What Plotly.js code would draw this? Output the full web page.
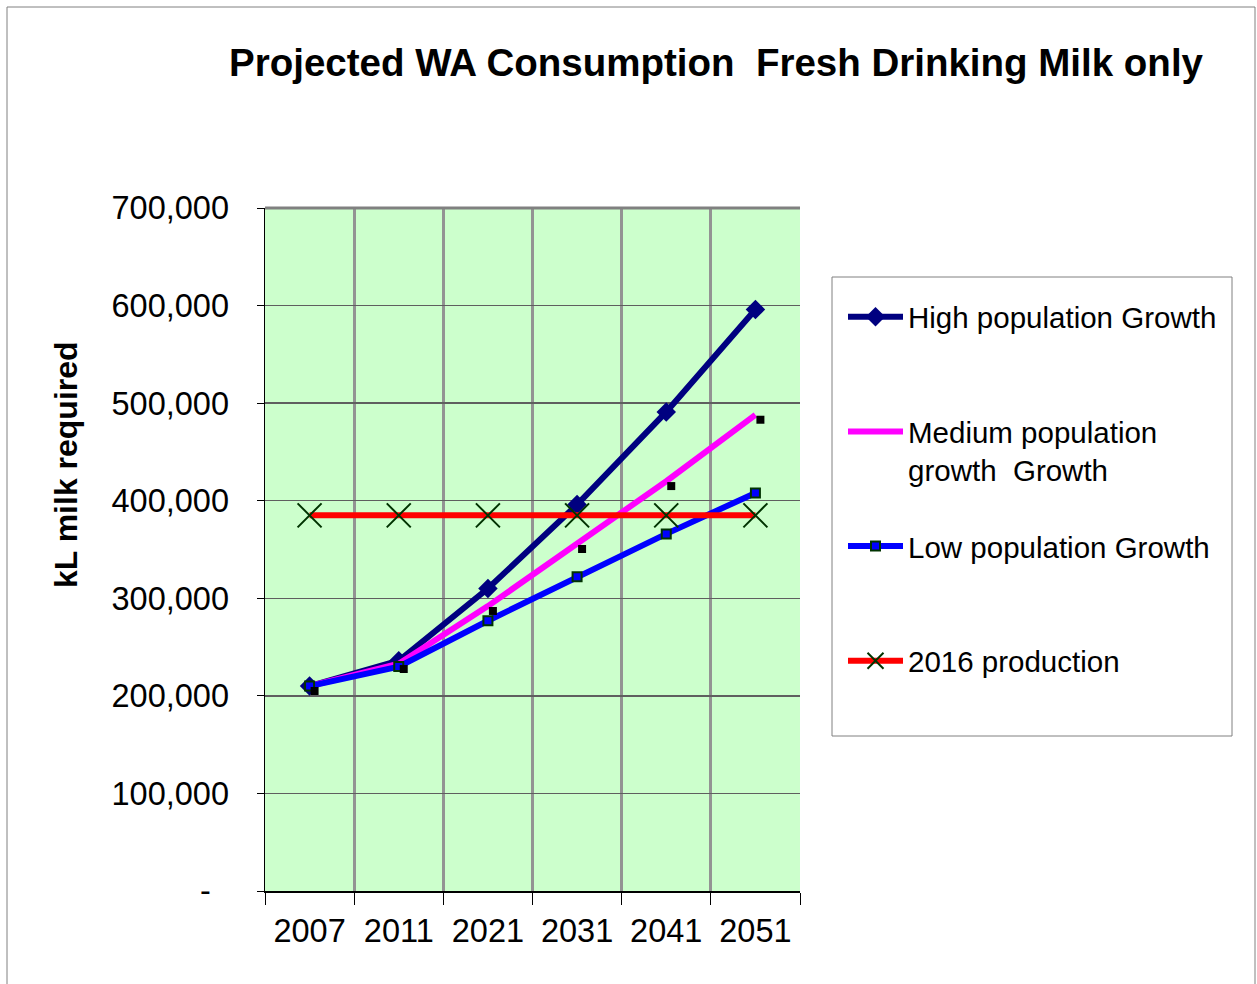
<!DOCTYPE html>
<html>
<head>
<meta charset="utf-8">
<script src="https://cdn.plot.ly/plotly-3.0.1.min.js"></script>
<style>
  html, body { margin: 0; padding: 0; background: #ffffff; }
  #chart { width: 1257px; height: 984px; }
</style>
</head>
<body>
<div id="chart"></div>
<script>
// Projection years (category axis)
const years = ['2007', '2011', '2021', '2031', '2041', '2051'];

// kL of fresh drinking milk required, by population growth scenario
const highGrowth   = [210000, 236000, 310000, 396000, 491000, 596000];
const mediumGrowth = [210000, 233000, 292000, 356000, 420000, 488000];
const mediumPoints = [205000, 227500, 287000, 350500, 415000, 483000];
const lowGrowth    = [210000, 230000, 277000, 322000, 366000, 408000];

// 2016 production level, flat across all years
const production2016 = [385000, 385000, 385000, 385000, 385000, 385000];

// Value axis ticks (accounting style, zero shown as a dash)
const yTickVals = [0, 100000, 200000, 300000, 400000, 500000, 600000, 700000];
const yTickText = ['-\u00a0\u00a0', '100,000', '200,000', '300,000', '400,000', '500,000', '600,000', '700,000'];

const FONT = 'Liberation Sans, Arial, sans-serif';

// plot area in pixels
const W = 1257, H = 984;
const L = 265, R = 457, T = 208, B = 93;
const PW = W - L - R, PH = H - T - B;
const px = v => (v - L) / PW;          // pixel x -> paper x
const py = v => (H - B - v) / PH;      // pixel y -> paper y

const traces = [
  {
    name: 'High population Growth<br>\u00a0',
    x: years, y: highGrowth,
    mode: 'lines+markers',
    line: { color: '#000080', width: 6 },
    marker: { symbol: 'diamond', size: 15, color: '#000080' },
    legendgroup: 'high'
  },
  {
    name: 'Medium population<br>growth\u00a0 Growth',
    x: years, y: mediumGrowth,
    mode: 'lines',
    line: { color: '#FF00FF', width: 6 },
    legendgroup: 'medium'
  },
  {
    name: 'medium points',
    x: years, y: mediumPoints,
    xaxis: 'x2',
    mode: 'markers',
    marker: { symbol: 'square', size: 8, color: '#000000' },
    showlegend: false,
    hoverinfo: 'skip'
  },
  {
    name: 'Low population Growth<br>\u00a0',
    x: years, y: lowGrowth,
    mode: 'lines+markers',
    line: { color: '#0000FF', width: 6 },
    marker: { symbol: 'square', size: 9, color: '#0000FF', line: { color: '#003300', width: 2 } },
    legendgroup: 'low'
  },
  {
    name: '2016 production<br>\u00a0',
    x: years, y: production2016,
    mode: 'lines+markers',
    line: { color: '#FF0000', width: 6 },
    marker: { symbol: 'x-thin-open', size: 24, color: '#003300', line: { color: '#003300', width: 2 } },
    legendgroup: 'prod'
  }
];

const layout = {
  width: W, height: H,
  margin: { l: L, r: R, t: T, b: B, pad: 0 },
  paper_bgcolor: '#ffffff',
  plot_bgcolor: 'rgba(0,0,0,0)',
  font: { family: FONT, color: '#000000' },
  title: {
    text: 'Projected WA Consumption\u00a0 Fresh Drinking Milk only',
    font: { family: FONT, size: 38.5, weight: 'bold', color: '#000000' },
    xref: 'container', yref: 'container',
    x: 716 / W, xanchor: 'center',
    y: 1 - 63 / H, yanchor: 'middle'
  },
  xaxis: {
    type: 'category',
    categoryorder: 'array', categoryarray: years,
    range: [-0.5, 5.5],
    tickson: 'boundaries',
    showgrid: true, gridcolor: '#939393', gridwidth: 3,
    showline: true, linecolor: '#000000', linewidth: 1.5,
    ticks: 'outside', ticklen: 12, tickcolor: '#000000', tickwidth: 1,
    tickfont: { family: FONT, size: 32.5, color: '#000000' },
    ticklabelstandoff: 10,
    zeroline: false, fixedrange: true
  },
  xaxis2: {
    type: 'category',
    categoryorder: 'array', categoryarray: years,
    overlaying: 'x', anchor: 'y',
    range: [-0.556, 5.444],
    visible: false, fixedrange: true
  },
  yaxis: {
    range: [0, 700000],
    tickmode: 'array', tickvals: yTickVals, ticktext: yTickText,
    showgrid: true, gridcolor: '#5f5f5f', gridwidth: 1.5,
    showline: true, linecolor: '#000000', linewidth: 1.5,
    ticks: 'outside', ticklen: 7, tickcolor: '#000000', tickwidth: 1,
    tickfont: { family: FONT, size: 32.5, color: '#000000' },
    ticklabelstandoff: 21,
    zeroline: false, fixedrange: true
  },
  legend: {
    x: px(843), xanchor: 'left',
    y: py(291), yanchor: 'top',
    bgcolor: 'rgba(0,0,0,0)', borderwidth: 0,
    font: { family: FONT, size: 29.5, color: '#000000' },
    itemwidth: 55,
    valign: 'top',
    tracegroupgap: 35
  },
  shapes: [
    // chart background panel
    { type: 'rect', xref: 'x domain', yref: 'y domain', x0: 0, x1: 1, y0: 0, y1: 1,
      fillcolor: '#CCFFCC', line: { width: 0 }, layer: 'below' },
    // top edge of the plot frame
    { type: 'line', xref: 'x domain', yref: 'y domain', x0: 0, x1: 1, y0: 1, y1: 1,
      line: { color: '#808080', width: 3 }, layer: 'above' },
    // outer chart frame
    { type: 'rect', xref: 'paper', yref: 'paper',
      x0: px(7), x1: px(1255), y0: py(1000), y1: py(7),
      fillcolor: 'rgba(0,0,0,0)', line: { color: '#808080', width: 1 }, layer: 'below' },
    // legend frame
    { type: 'rect', xref: 'paper', yref: 'paper',
      x0: px(832), x1: px(1232), y0: py(736), y1: py(277),
      fillcolor: '#ffffff', line: { color: '#808080', width: 1 }, layer: 'below' }
  ],
  annotations: [
    { text: 'kL milk required', showarrow: false, textangle: -90,
      xref: 'paper', yref: 'paper', x: px(66), y: py(465),
      xanchor: 'center', yanchor: 'middle',
      font: { family: FONT, size: 32, weight: 'bold', color: '#000000' } }
  ],
  showlegend: true,
  hovermode: false
};

Plotly.newPlot('chart', traces, layout, { displayModeBar: false, staticPlot: true });
</script>
</body>
</html>
